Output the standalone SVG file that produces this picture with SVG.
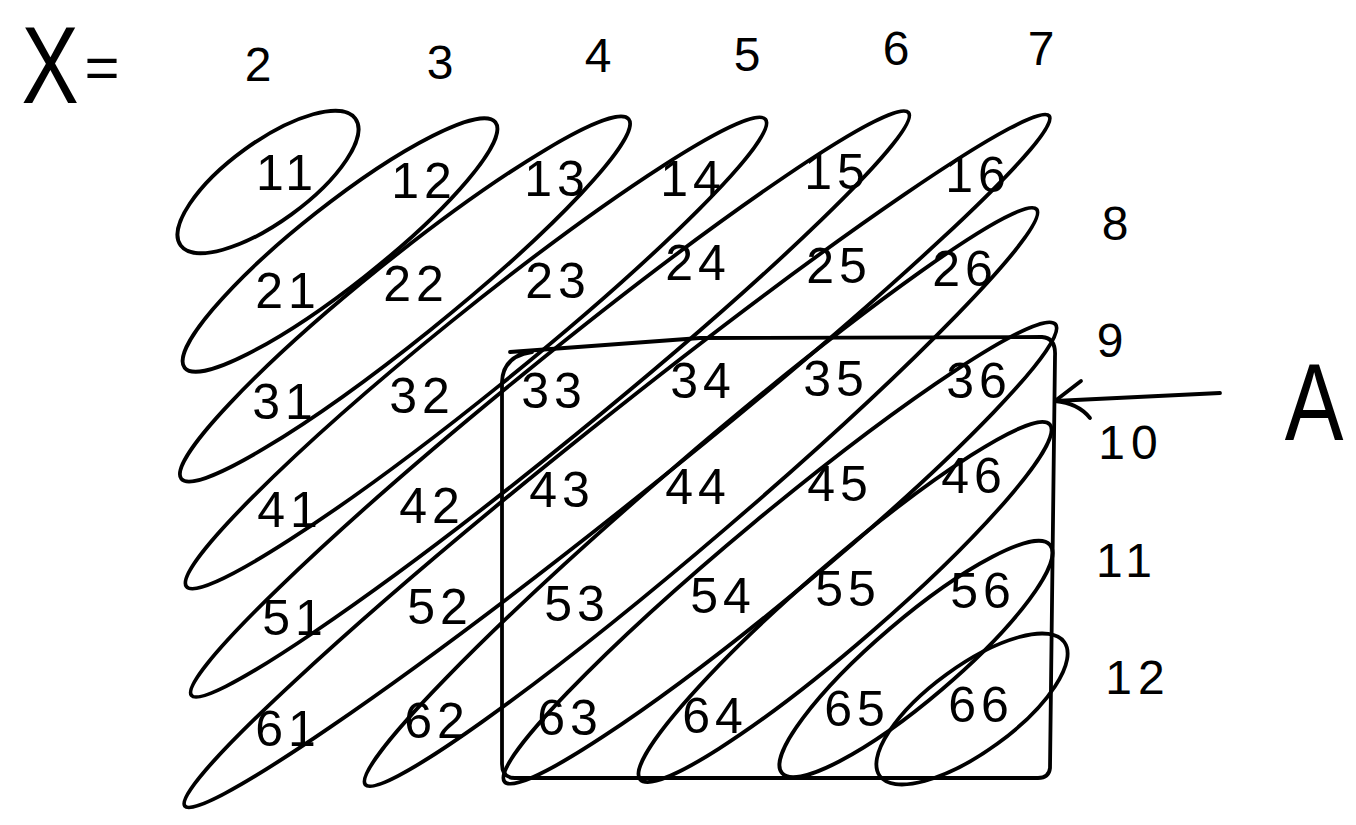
<svg xmlns="http://www.w3.org/2000/svg" width="1356" height="825" viewBox="0 0 1356 825">
<style>
.bg{fill:#fff}
.t{font-family:"Liberation Sans","DejaVu Sans",sans-serif;font-size:50px;fill:#000;text-anchor:middle;letter-spacing:5px}
.lab{font-family:"Liberation Sans","DejaVu Sans",sans-serif;font-size:48px;fill:#000;text-anchor:middle;letter-spacing:6px}
.big{font-family:"Liberation Sans","DejaVu Sans",sans-serif;fill:#000;text-anchor:middle}
.e{fill:none;stroke:#000;stroke-width:3.8}
.ln{fill:none;stroke:#000;stroke-width:3.8;stroke-linecap:round;stroke-linejoin:round}
</style>
<rect class="bg" x="0" y="0" width="1356" height="825"/>
<g id="axis-labels">
<text class="big" transform="translate(50 103) scale(0.78 1)" style="font-size:110px">X</text>
<text class="big" x="102" y="88" style="font-size:60px">=</text>
<text class="lab" x="261" y="81">2</text>
<text class="lab" x="443" y="79">3</text>
<text class="lab" x="601" y="72">4</text>
<text class="lab" x="750" y="71">5</text>
<text class="lab" x="899" y="65">6</text>
<text class="lab" x="1044" y="65">7</text>
<text class="lab" x="1118" y="240">8</text>
<text class="lab" x="1113" y="357">9</text>
<text class="lab" x="1131" y="459">10</text>
<text class="lab" x="1127" y="577">11</text>
<text class="lab" x="1138" y="694">12</text>
</g>
<g id="sum-groups">
<ellipse class="e" cx="268" cy="182" rx="108" ry="40" transform="rotate(-36 268 182)"/>
<ellipse class="e" cx="340" cy="245" rx="198" ry="40" transform="rotate(-38.3 340 245)"/>
<ellipse class="e" cx="405" cy="299" rx="287" ry="40" transform="rotate(-38.8 405 299)"/>
<ellipse class="e" cx="476" cy="353" rx="372" ry="40" transform="rotate(-38.9 476 353)"/>
<ellipse class="e" cx="550" cy="404" rx="462" ry="40" transform="rotate(-39.1 550 404)"/>
<ellipse class="e" cx="617" cy="461" rx="553" ry="41" transform="rotate(-38.6 617 461)"/>
<ellipse class="e" cx="701" cy="497" rx="442" ry="40" transform="rotate(-40.6 701 497)"/>
<ellipse class="e" cx="780" cy="553" rx="358" ry="40" transform="rotate(-39.7 780 553)"/>
<ellipse class="e" cx="845" cy="602" rx="271" ry="40" transform="rotate(-40.9 845 602)"/>
<ellipse class="e" cx="916" cy="659" rx="176" ry="40" transform="rotate(-40.4 916 659)"/>
<ellipse class="e" cx="972" cy="709" rx="114" ry="43" transform="rotate(-36 972 709)"/>
</g>
<g id="cells">
<g id="c11"><text class="t" x="287" y="190">11</text></g>
<g id="c12"><text class="t" x="424" y="198">12</text></g>
<g id="c13"><text class="t" x="557" y="196">13</text></g>
<g id="c14"><text class="t" x="693" y="196">14</text></g>
<g id="c15"><text class="t" x="837" y="189">15</text></g>
<g id="c16"><text class="t" x="978" y="192">16</text></g>
<g id="c21"><text class="t" x="288" y="308">21</text></g>
<g id="c22"><text class="t" x="416" y="301">22</text></g>
<g id="c23"><text class="t" x="558" y="298">23</text></g>
<g id="c24"><text class="t" x="698" y="280">24</text></g>
<g id="c25"><text class="t" x="839" y="283">25</text></g>
<g id="c26"><text class="t" x="965" y="286">26</text></g>
<g id="c31"><text class="t" x="285" y="419">31</text></g>
<g id="c32"><text class="t" x="422" y="413">32</text></g>
<g id="c33"><text class="t" x="554" y="408">33</text></g>
<g id="c34"><text class="t" x="703" y="398">34</text></g>
<g id="c35"><text class="t" x="836" y="396">35</text></g>
<g id="c36"><text class="t" x="979" y="398">36</text></g>
<g id="c41"><text class="t" x="290" y="527">41</text></g>
<g id="c42"><text class="t" x="432" y="523">42</text></g>
<g id="c43"><text class="t" x="562" y="507">43</text></g>
<g id="c44"><text class="t" x="698" y="504">44</text></g>
<g id="c45"><text class="t" x="840" y="501">45</text></g>
<g id="c46"><text class="t" x="974" y="493">46</text></g>
<g id="c51"><text class="t" x="295" y="635">51</text></g>
<g id="c52"><text class="t" x="440" y="624">52</text></g>
<g id="c53"><text class="t" x="577" y="621">53</text></g>
<g id="c54"><text class="t" x="723" y="613">54</text></g>
<g id="c55"><text class="t" x="848" y="606">55</text></g>
<g id="c56"><text class="t" x="983" y="608">56</text></g>
<g id="c61"><text class="t" x="288" y="746">61</text></g>
<g id="c62"><text class="t" x="437" y="738">62</text></g>
<g id="c63"><text class="t" x="570" y="735">63</text></g>
<g id="c64"><text class="t" x="715" y="733">64</text></g>
<g id="c65"><text class="t" x="857" y="726">65</text></g>
<g id="c66"><text class="t" x="981" y="722">66</text></g>
</g>
<g id="region-A">
<path class="ln" d="M510 352 L700 338 L1042 337 Q1056 338 1055 356 L1050 768 Q1049 778 1038 778 L515 778 Q502 778 502 764 L502 382 Q503 356 532 352"/>
</g>
<g id="label-A"><text class="big" transform="translate(1314 440) scale(0.8 1)" style="font-size:110px">A</text></g>
<g id="connectors">
<path class="ln" d="M1220 393 L1055 401"/>
<path class="ln" d="M1081 381 L1055 401 Q1078 403 1090 418"/>
</g>
</svg>
